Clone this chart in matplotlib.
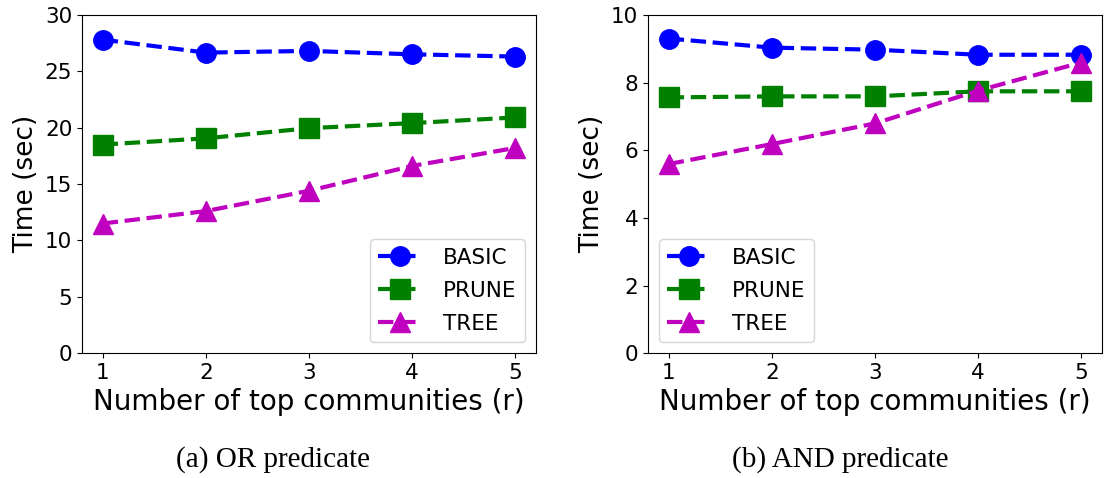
import numpy as np
import matplotlib
matplotlib.use("Agg")
import matplotlib.pyplot as plt

# top communities r
r_vals = [1, 2, 3, 4, 5]

# (a) OR predicate, seconds
or_basic = [27.8, 26.65, 26.8, 26.5, 26.3]
or_prune = [18.5, 19.05, 19.95, 20.4, 20.9]
or_tree = [11.5, 12.6, 14.4, 16.6, 18.2]

# (b) AND predicate, seconds
and_basic = [9.3, 9.03, 8.97, 8.82, 8.82]
and_prune = [7.56, 7.59, 7.59, 7.74, 7.74]
and_tree = [5.59, 6.18, 6.79, 7.76, 8.59]

series_names = ['BASIC', 'PRUNE', 'TREE']
styles = [('b', 'o'), ('g', 's'), ('m', '^')]

fig = plt.figure(figsize=(11.04, 4.78), dpi=100)
ax1 = fig.add_axes([0.0743, 0.261, 0.411, 0.708])
ax2 = fig.add_axes([0.587, 0.261, 0.411, 0.708])

panels = [
    (ax1, [or_basic, or_prune, or_tree], (0, 30), [0, 5, 10, 15, 20, 25, 30], 'lower right'),
    (ax2, [and_basic, and_prune, and_tree], (0, 10), [0, 2, 4, 6, 8, 10], 'lower left'),
]

for ax, data, ylim, yticks, loc in panels:
    for vals, name, (c, m) in zip(data, series_names, styles):
        ax.plot(r_vals, vals, color=c, marker=m, linestyle='--', linewidth=3,
                markersize=14, label=name)
    ax.set_ylim(*ylim)
    ax.set_yticks(yticks)
    ax.set_xticks(r_vals)
    ax.tick_params(labelsize=15.5)
    ax.set_xlabel('Number of top communities (r)', fontsize=20, labelpad=3.5)
    ax.set_ylabel('Time (sec)', fontsize=19)
    ax.legend(loc=loc, fontsize=15.5, labelspacing=0.6, handletextpad=1.0)

fig.text(0.247, 0.038, '(a) OR predicate', ha='center', va='center',
         fontsize=21, family='Liberation Serif')
fig.text(0.761, 0.038, '(b) AND predicate', ha='center', va='center',
         fontsize=21, family='Liberation Serif')

fig.savefig('out.png', dpi=100)
